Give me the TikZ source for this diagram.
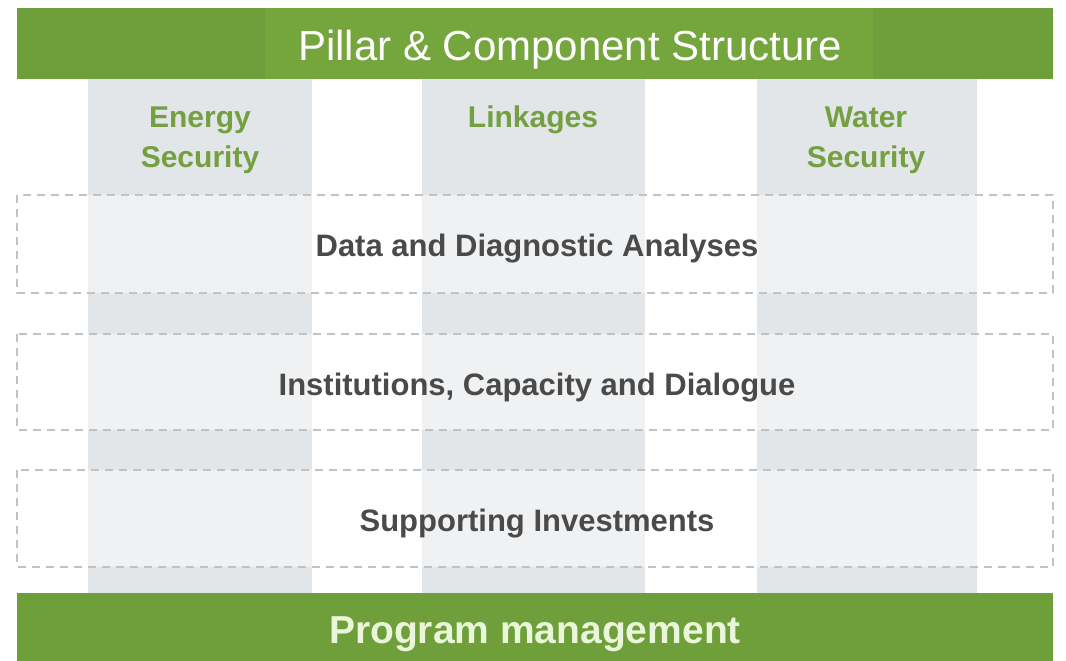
\documentclass[tikz,border=0pt]{standalone}
\usepackage{fontspec}
\setmainfont{Liberation Sans}
\definecolor{bargreen}{HTML}{6F9F3A}
\definecolor{titlegreen}{HTML}{75A63D}
\definecolor{colgray}{HTML}{E3E6E8}
\definecolor{colin}{HTML}{F0F1F2}
\definecolor{dashgray}{HTML}{C2C2C2}
\definecolor{darktext}{HTML}{4A4A4A}
\definecolor{lblgreen}{HTML}{74A042}
\definecolor{pmtext}{HTML}{EAF6D9}
\begin{document}
\begin{tikzpicture}[x=1pt,y=-1pt,
  pillar/.style={fill=colgray,draw=none},
  pillarin/.style={fill=colin,draw=none},
  compbox/.style={draw=dashgray,line width=1.4pt,dash pattern=on 8pt off 6pt},
  comptext/.style={anchor=base,font=\bfseries\fontsize{31}{36}\selectfont,text=darktext,inner sep=0pt},
  plabel/.style={anchor=base,font=\bfseries\fontsize{30}{36}\selectfont,text=lblgreen,inner sep=0pt},
]
\useasboundingbox (0,0) rectangle (1066,661);
\fill[white] (0,0) rectangle (1066,661);
% pillars
\foreach \l/\r in {88/312,422/645,757/977}{
  \fill[pillar] (\l,79) rectangle (\r,593);
  \foreach \t/\b in {195/293,334/430,470/567}{
    \fill[pillarin] (\l,\t) rectangle (\r,\b);
  }
}
% top bar
\fill[bargreen] (17,8) rectangle (1053,79);
\fill[titlegreen] (265,8) rectangle (873,79);
\node[anchor=base,inner sep=0pt,font=\fontsize{42}{48}\selectfont,text=white] (title) at (570,60) {Pillar \& Component Structure};
% pillar labels
\node[plabel] (energyA) at (200,128) {Energy};
\node[plabel] (energyB) at (200,167) {Security};
\node[plabel] (link) at (533,127) {Linkages};
\node[plabel] (waterA) at (866,128) {Water};
\node[plabel] (waterB) at (866,167) {Security};
% component boxes
\draw[compbox] (17,195) rectangle (1053,293);
\draw[compbox] (17,334) rectangle (1053,430);
\draw[compbox] (17,470) rectangle (1053,567);
\node[comptext] (data) at (537,256) {Data and Diagnostic Analyses};
\node[comptext] (inst) at (537,395) {Institutions, Capacity and Dialogue};
\node[comptext] (supp) at (537,531) {Supporting Investments};
% bottom bar
\fill[bargreen] (17,593) rectangle (1053,661);
\node[anchor=base,inner sep=0pt,font=\bfseries\fontsize{39}{44}\selectfont,text=pmtext] (pm) at (535,643) {Program management};
\end{tikzpicture}
\end{document}
